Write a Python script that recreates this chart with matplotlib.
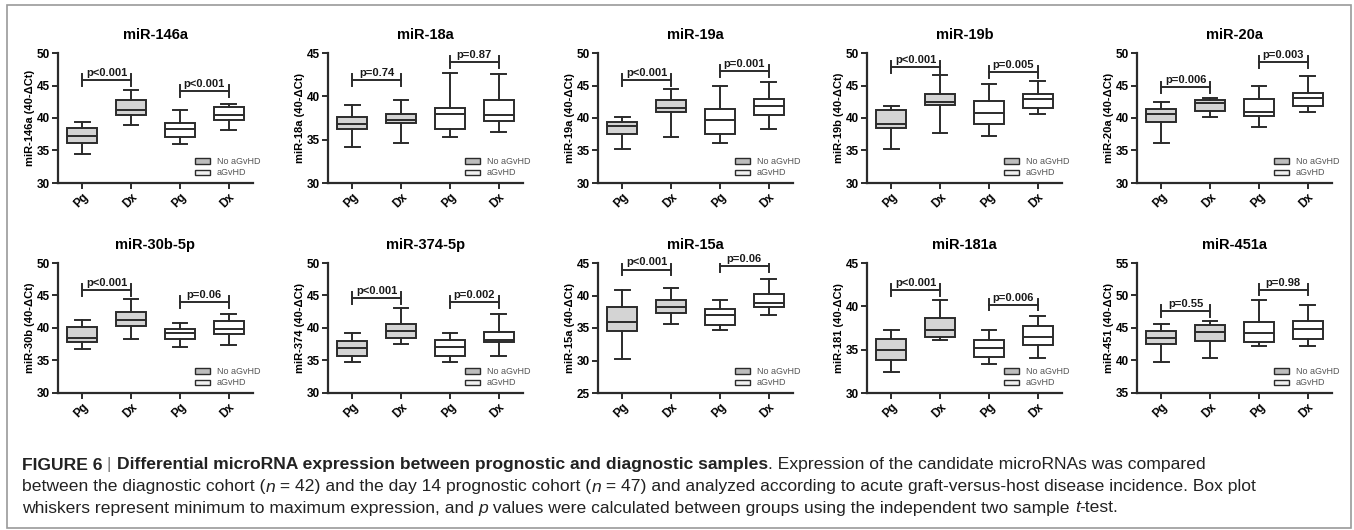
import matplotlib
matplotlib.use("Agg")
import matplotlib.pyplot as plt
from matplotlib.patches import Patch, Rectangle

plt.rcParams['font.family'] = ['Liberation Sans', 'DejaVu Sans']

titles = ["miR-146a", "miR-18a", "miR-19a", "miR-19b", "miR-20a",
          "miR-30b-5p", "miR-374-5p", "miR-15a", "miR-181a", "miR-451a"]
ylabels = ["miR-146a (40-ΔCt)", "miR-18a (40-ΔCt)", "miR-19a (40-ΔCt)",
           "miR-19b (40-ΔCt)", "miR-20a (40-ΔCt)", "miR-30b (40-ΔCt)",
           "miR-374 (40-ΔCt)", "miR-15a (40-ΔCt)", "miR-181 (40-ΔCt)",
           "miR-451 (40-ΔCt)"]
ylims = [(30, 50), (30, 45), (30, 50), (30, 50), (30, 50),
         (30, 50), (30, 50), (25, 45), (30, 45), (35, 55)]
groups = ["Pg", "Dx", "Pg", "Dx"]
legend_labels = ["No aGvHD", "aGvHD"]

# min, q1, median, q3, max  for  Pg, Dx (grey boxes)  then  Pg, Dx (white boxes)
mir146a = [[34.5, 36.1, 37.2, 38.4, 39.4], [38.9, 40.4, 41.3, 42.8, 44.3],
           [36.0, 37.1, 38.3, 39.2, 41.3], [38.2, 39.7, 40.5, 41.7, 42.2]]
mir18a = [[34.2, 36.2, 36.8, 37.6, 39.0], [34.6, 36.9, 37.3, 38.0, 39.6],
          [35.3, 36.2, 38.0, 38.7, 42.7], [35.9, 37.1, 37.8, 39.6, 42.6]]
mir19a = [[35.3, 37.6, 38.8, 39.4, 40.1], [37.1, 40.9, 41.6, 42.8, 44.4],
          [36.2, 37.6, 39.7, 41.4, 44.9], [38.3, 40.5, 41.8, 43.0, 45.6]]
mir19b = [[35.2, 38.4, 39.1, 41.2, 41.9], [37.7, 42.0, 42.5, 43.7, 46.6],
          [37.2, 39.1, 40.8, 42.6, 45.2], [40.6, 41.6, 42.9, 43.7, 45.7]]
mir20a = [[36.1, 39.4, 40.6, 41.4, 42.4], [40.1, 41.1, 42.3, 42.8, 43.1],
          [38.6, 40.3, 40.9, 42.9, 45.0], [40.9, 41.8, 43.1, 43.9, 46.4]]
mir30b = [[36.7, 37.9, 38.4, 40.2, 41.3], [38.3, 40.3, 41.3, 42.5, 44.4],
          [37.0, 38.3, 39.2, 39.8, 40.8], [37.4, 39.1, 39.9, 41.0, 42.2]]
mir374 = [[34.8, 35.7, 36.9, 38.0, 39.2], [37.6, 38.5, 39.5, 40.6, 43.0],
          [34.7, 35.7, 37.0, 38.2, 39.2], [35.7, 37.9, 38.2, 39.4, 42.1]]
mir15a = [[30.3, 34.5, 35.9, 38.2, 40.9], [35.6, 37.3, 38.2, 39.3, 41.1],
          [34.7, 35.5, 37.0, 37.9, 39.3], [37.0, 38.2, 38.9, 40.3, 42.6]]
mir181a = [[32.4, 33.8, 35.0, 36.2, 37.3], [36.1, 36.5, 37.3, 38.7, 40.7],
           [33.4, 34.1, 35.2, 36.1, 37.3], [34.0, 35.5, 36.5, 37.7, 38.9]]
mir451a = [[39.7, 42.5, 43.5, 44.6, 45.6], [40.4, 43.0, 44.4, 45.4, 46.0],
           [42.2, 42.8, 44.3, 45.9, 49.3], [42.2, 43.3, 44.8, 46.0, 48.6]]
boxes = [mir146a, mir18a, mir19a, mir19b, mir20a,
         mir30b, mir374, mir15a, mir181a, mir451a]

p_left = ["p<0.001", "p=0.74", "p<0.001", "p<0.001", "p=0.006",
          "p<0.001", "p<0.001", "p<0.001", "p<0.001", "p=0.55"]
p_right = ["p<0.001", "p=0.87", "p=0.001", "p=0.005", "p=0.003",
           "p=0.06", "p=0.002", "p=0.06", "p=0.006", "p=0.98"]
bar_left = [45.8, 41.9, 45.8, 47.9, 44.7, 45.8, 44.6, 44.0, 41.9, 47.6]
bar_right = [44.2, 44.0, 47.2, 47.1, 48.6, 44.0, 44.0, 44.5, 40.2, 50.9]

W, H = 1354, 530
EDGE = "#2b2b2b"
FILLS = ["#d4d4d4", "#d4d4d4", "white", "white"]

fig = plt.figure(figsize=(W / 100, H / 100), dpi=100)

col_x = [58, 328, 598, 867, 1137]
row_top = [53, 263]
ax_w, ax_h = 195, 130


def bracket(ax, x0, x1, y, label, tick):
    ax.plot([x0, x1], [y, y], color=EDGE, lw=1.4)
    ax.plot([x0, x0], [y - tick, y + tick], color=EDGE, lw=1.4)
    ax.plot([x1, x1], [y - tick, y + tick], color=EDGE, lw=1.4)
    ax.annotate(label, xy=((x0 + x1) / 2, y), xytext=(0, 1.5),
                textcoords="offset points", ha="center", va="bottom",
                fontsize=8, fontweight="bold", color="#1a1a1a")


for i in range(10):
    r, c = divmod(i, 5)
    ax = fig.add_axes([col_x[c] / W, 1 - (row_top[r] + ax_h) / H, ax_w / W, ax_h / H])
    stats = [dict(whislo=b[0], q1=b[1], med=b[2], q3=b[3], whishi=b[4]) for b in boxes[i]]
    bp = ax.bxp(stats, positions=[1, 2, 3, 4], widths=0.62, capwidths=0.3,
                showfliers=False, patch_artist=True,
                boxprops=dict(edgecolor=EDGE, linewidth=1.4),
                medianprops=dict(color=EDGE, linewidth=1.4),
                whiskerprops=dict(color=EDGE, linewidth=1.4),
                capprops=dict(color=EDGE, linewidth=1.4))
    for patch, fc in zip(bp["boxes"], FILLS):
        patch.set_facecolor(fc)

    lo, hi = ylims[i]
    ax.set_ylim(lo, hi)
    ax.set_yticks(range(lo, hi + 1, 5))
    ax.set_xlim(0.5, 4.5)
    ax.set_xticks([1, 2, 3, 4])
    ax.set_xticklabels(groups, rotation=45, ha="right", rotation_mode="anchor",
                       fontsize=8.5, fontweight="bold")
    for lab in ax.get_yticklabels():
        lab.set_fontweight("bold")
        lab.set_fontsize(8.5)
    ax.tick_params(direction="out", length=4, width=1.4, color=EDGE, pad=2)
    for s in ["top", "right"]:
        ax.spines[s].set_visible(False)
    for s in ["left", "bottom"]:
        ax.spines[s].set_linewidth(1.6)
        ax.spines[s].set_color(EDGE)
    ax.set_ylabel(ylabels[i], fontsize=8, fontweight="bold", labelpad=1)
    ax.set_title(titles[i], fontsize=10.5, fontweight="bold", pad=10)

    tick = 0.045 * (hi - lo)
    bracket(ax, 1, 2, bar_left[i], p_left[i], tick)
    bracket(ax, 3, 4, bar_right[i], p_right[i], tick)

    handles = [Patch(facecolor="#bdbdbd", edgecolor=EDGE, linewidth=1, label=legend_labels[0]),
               Patch(facecolor="#f0f0f0", edgecolor=EDGE, linewidth=1, label=legend_labels[1])]
    ax.legend(handles=handles, loc="lower right", bbox_to_anchor=(1.08, -0.02),
              frameon=False, fontsize=6.5, handlelength=1.6, handleheight=0.5,
              labelspacing=0.25, handletextpad=0.8, labelcolor="#555555")

# caption with mixed bold / italic runs
renderer = fig.canvas.get_renderer()


def caption_line(x_px, y_px, runs, size=12.6):
    for txt, weight, style, color in runs:
        t = fig.text(x_px / W, 1 - y_px / H, txt, fontsize=size, fontweight=weight,
                     fontstyle=style, color=color, va="center", ha="left")
        x_px += t.get_window_extent(renderer=renderer).width


DARK = "#222222"
caption_line(22, 465, [("FIGURE 6", "bold", "normal", DARK),
                       (" | ", "normal", "normal", "#777777"),
                       ("Differential microRNA expression between prognostic and diagnostic samples", "bold", "normal", DARK),
                       (". Expression of the candidate microRNAs was compared", "normal", "normal", DARK)])
caption_line(22, 487, [("between the diagnostic cohort (", "normal", "normal", DARK),
                       ("n", "normal", "italic", DARK),
                       (" = 42) and the day 14 prognostic cohort (", "normal", "normal", DARK),
                       ("n", "normal", "italic", DARK),
                       (" = 47) and analyzed according to acute graft-versus-host disease incidence. Box plot", "normal", "normal", DARK)])
caption_line(22, 508, [("whiskers represent minimum to maximum expression, and ", "normal", "normal", DARK),
                       ("p", "normal", "italic", DARK),
                       (" values were calculated between groups using the independent two sample ", "normal", "normal", DARK),
                       ("t", "normal", "italic", DARK),
                       ("-test.", "normal", "normal", DARK)])

fig.add_artist(Rectangle((7 / W, 2 / H), (1351 - 7) / W, (525 - 2) / H,
                         transform=fig.transFigure, fill=False,
                         edgecolor="#9a9a9a", linewidth=1.2))

fig.savefig("out.png", dpi=100)
